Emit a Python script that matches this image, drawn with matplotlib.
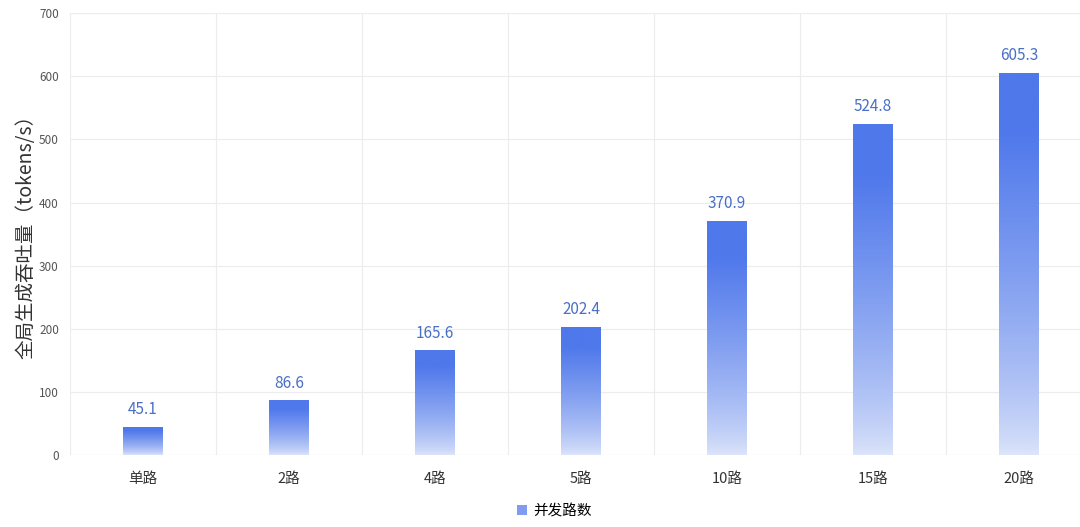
import matplotlib
matplotlib.use("Agg")
import matplotlib.pyplot as plt
import numpy as np
from matplotlib.colors import LinearSegmentedColormap
from matplotlib.patches import Patch

plt.rcParams['font.family'] = ['Noto Sans CJK SC', 'DejaVu Sans']

categories = ['单路', '2路', '4路', '5路', '10路', '15路', '20路']
throughput = [45.1, 86.6, 165.6, 202.4, 370.9, 524.8, 605.3]

top_color = '#4f78eb'
bottom_color = '#dde5fa'
cmap = LinearSegmentedColormap.from_list('grad', [bottom_color, top_color])

fig = plt.figure(figsize=(10.8, 5.27), dpi=100)
# axes run a little past the right edge, as in the reference
ax = fig.add_axes([0.0648, 0.1366, 0.9463, 0.8384])

x = np.arange(len(categories))
bars = ax.bar(x, throughput, width=0.27, color='none', edgecolor='none', zorder=3)

t = np.linspace(0, 1, 256)
grad = (np.minimum(1, t / 0.85) ** 0.75).reshape(-1, 1)
for b in bars:
    x0, y0 = b.get_x(), b.get_y()
    w, h = b.get_width(), b.get_height()
    im = ax.imshow(grad, cmap=cmap, vmin=0, vmax=1, aspect='auto', origin='lower',
                   extent=[x0, x0 + w, y0, y0 + h], zorder=3)
    im.set_clip_path(b)

for xi, v in zip(x, throughput):
    ax.text(xi, v + 14, f'{v}', ha='center', va='bottom',
            fontsize=11, color='#4a6fc7', zorder=4)

ax.set_xlim(-0.5, 6.5)
ax.set_ylim(0, 700)
ax.set_yticks(range(0, 701, 100))
ax.set_xticks(x)
ax.set_xticklabels(categories, fontsize=10.5, color='#333333')
ax.tick_params(axis='y', labelsize=8.5, colors='#555555', length=0, pad=8)
ax.tick_params(axis='x', length=0, pad=12)

# vertical grid lines between categories
ax.set_xticks(np.arange(-0.5, 7, 1), minor=True)
ax.tick_params(axis='x', which='minor', length=0)
ax.grid(True, which='minor', axis='x', color='#ececec', lw=0.8, zorder=0)
ax.grid(True, which='major', axis='y', color='#ececec', lw=0.8, zorder=0)
for s in ax.spines.values():
    s.set_visible(False)
ax.axhline(0, color='#e3e3e3', lw=0.8, zorder=1)

ax.set_ylabel('全局生成吞吐量（tokens/s）', fontsize=14, color='#333333')
ax.yaxis.set_label_coords(-0.033, 0.505)

handle = Patch(facecolor='#7f9cf0', edgecolor='none')
fig.legend([handle], ['并发路数'], loc='lower center', bbox_to_anchor=(0.513, -0.008),
           frameon=False, fontsize=10.5, handlelength=0.7, handleheight=0.7,
           handletextpad=0.4)

fig.savefig('out.png', dpi=100, facecolor='white')
